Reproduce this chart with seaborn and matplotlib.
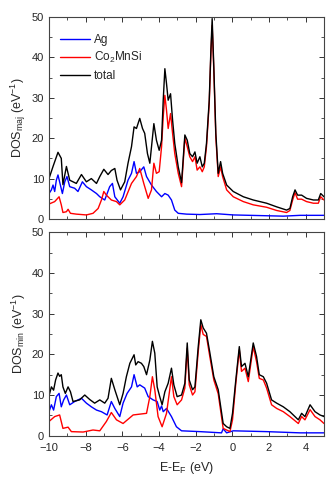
import numpy as np
import pandas as pd
import matplotlib
matplotlib.use("Agg")
import matplotlib.pyplot as plt
import seaborn as sns
from matplotlib.ticker import MultipleLocator

# ---- majority spin channel ----
maj_total_e = [-10.00, -9.78, -9.51, -9.33, -9.24, -9.05, -8.87, -8.51, -8.23, -7.96, -7.69, -7.41,
               -7.23, -7.01, -6.78, -6.60, -6.41, -6.29, -6.10, -5.87, -5.69, -5.50, -5.36, -5.23,
               -5.05, -4.90, -4.78, -4.63, -4.50, -4.28, -4.14, -3.99, -3.86, -3.77, -3.68, -3.59,
               -3.50, -3.37, -3.26, -3.14, -2.95, -2.77, -2.59, -2.46, -2.32, -2.17, -2.04, -1.92,
               -1.77, -1.64, -1.53, -1.41, -1.26, -1.17, -1.10, -1.01, -0.90, -0.77, -0.64, -0.53,
               -0.31, 0.05, 0.60, 1.14, 1.87, 2.42, 2.96, 3.14, 3.29, 3.42, 3.56, 3.78, 4.05,
               4.42, 4.69, 4.82, 5.00]
maj_total = [10.0, 13.0, 16.5, 15.0, 8.5, 13.0, 9.6, 8.8, 11.0, 9.2, 10.0, 8.8,
             10.5, 12.3, 11.0, 12.0, 12.5, 9.6, 7.2, 9.2, 13.8, 17.9, 22.8, 22.4,
             24.9, 22.4, 21.2, 16.2, 13.8, 23.6, 19.5, 17.0, 19.5, 29.4, 37.2, 33.5,
             29.4, 31.0, 24.5, 18.7, 12.9, 9.0, 20.8, 19.5, 16.2, 15.4, 16.6, 13.8,
             15.4, 12.9, 13.8, 18.7, 29.4, 41.8, 49.6, 37.6, 21.2, 11.3, 14.2, 11.3,
             8.4, 6.8, 5.5, 4.7, 3.9, 3.0, 2.2, 2.6, 5.5, 7.2, 5.9, 5.9, 5.1,
             4.7, 4.7, 6.3, 5.5]

maj_co_e = [-10.00, -9.69, -9.45, -9.33, -9.24, -9.05, -8.96, -8.83, -8.51, -7.96, -7.60, -7.32,
            -7.14, -7.01, -6.87, -6.60, -6.32, -6.14, -5.87, -5.50, -5.23, -5.05, -4.83, -4.59,
            -4.41, -4.28, -4.14, -3.99, -3.86, -3.77, -3.68, -3.59, -3.50, -3.37, -3.26, -3.14,
            -2.95, -2.77, -2.59, -2.46, -2.32, -2.17, -2.04, -1.92, -1.77, -1.64, -1.53, -1.41,
            -1.26, -1.17, -1.10, -1.01, -0.90, -0.77, -0.64, -0.53, -0.31, 0.05, 0.60, 1.14,
            1.87, 2.42, 2.96, 3.14, 3.29, 3.42, 3.56, 3.78, 4.05, 4.42, 4.69, 4.82, 5.00]
maj_co = [3.7, 4.3, 5.5, 3.5, 1.6, 1.8, 2.4, 1.4, 1.2, 1.0, 1.4, 2.6,
          4.7, 6.8, 5.9, 4.7, 4.3, 3.5, 4.7, 8.8, 10.5, 12.5, 8.8, 5.1,
          7.2, 13.8, 11.3, 11.7, 17.9, 25.3, 30.6, 26.9, 22.4, 26.1, 21.2, 16.2,
          11.3, 8.0, 20.0, 17.9, 15.4, 14.2, 15.4, 12.1, 12.9, 11.7, 12.9, 17.9,
          28.6, 40.9, 47.9, 36.8, 20.3, 10.5, 12.9, 10.5, 7.2, 5.5, 4.3, 3.5,
          2.9, 2.1, 1.6, 2.1, 4.7, 6.5, 4.9, 4.9, 4.3, 3.9, 3.9, 5.5, 4.7]

maj_ag_e = [-10.00, -9.87, -9.78, -9.69, -9.60, -9.51, -9.38, -9.27, -9.14, -9.02, -8.87, -8.60,
            -8.42, -8.18, -7.96, -7.69, -7.41, -7.23, -6.96, -6.69, -6.54, -6.41, -6.14, -5.96,
            -5.69, -5.50, -5.36, -5.23, -5.05, -4.83, -4.68, -4.41, -4.14, -3.86, -3.68, -3.50,
            -3.32, -3.14, -2.95, -2.50, -1.77, -0.86, 0.05, 1.87, 2.78, 3.69, 5.00]
maj_ag = [6.3, 7.2, 8.4, 6.8, 9.6, 10.9, 8.4, 6.3, 9.2, 10.5, 8.0, 7.6,
          6.8, 9.2, 8.0, 7.2, 6.3, 5.5, 4.7, 8.0, 8.8, 5.5, 3.9, 5.5,
          9.6, 11.3, 14.2, 11.3, 11.7, 12.9, 10.5, 8.4, 6.8, 5.5, 6.3, 5.9,
          4.7, 2.2, 1.4, 1.2, 1.1, 1.3, 1.0, 0.8, 0.7, 0.9, 0.9]

# ---- minority spin channel ----
min_total_e = [-10.00, -9.87, -9.75, -9.64, -9.51, -9.42, -9.33, -9.24, -9.11, -8.96, -8.83, -8.69,
               -8.33, -8.05, -7.78, -7.51, -7.23, -6.96, -6.78, -6.60, -6.41, -6.14, -5.96, -5.78,
               -5.59, -5.36, -5.27, -5.14, -4.96, -4.83, -4.68, -4.50, -4.36, -4.23, -4.10, -3.96,
               -3.83, -3.68, -3.50, -3.32, -3.19, -3.01, -2.77, -2.59, -2.46, -2.35, -2.17, -2.04,
               -1.86, -1.72, -1.59, -1.41, -1.23, -1.01, -0.77, -0.50, -0.31, -0.13, 0.01, 0.19,
               0.38, 0.50, 0.69, 0.87, 1.14, 1.32, 1.47, 1.69, 1.87, 2.14, 2.42, 2.78,
               3.14, 3.60, 3.78, 3.96, 4.24, 4.51, 4.78, 5.00]
min_total = [9.8, 12.0, 11.2, 13.7, 15.4, 14.6, 15.0, 12.0, 10.4, 12.0, 10.8, 8.4,
             8.8, 10.0, 8.9, 8.0, 8.8, 8.0, 9.2, 14.1, 11.3, 7.6, 10.4, 14.5,
             17.8, 19.9, 17.4, 18.2, 17.8, 17.0, 15.0, 18.6, 23.2, 20.3, 12.0, 9.6,
             7.6, 10.8, 12.9, 16.6, 12.5, 9.6, 10.0, 12.9, 22.8, 13.7, 11.3, 12.0,
             21.9, 28.5, 26.5, 25.2, 20.5, 14.5, 11.3, 3.0, 2.2, 1.8, 5.5, 13.7,
             21.9, 17.0, 17.8, 14.5, 22.8, 19.5, 15.0, 14.5, 12.9, 8.8, 8.0, 7.1,
             5.9, 3.9, 5.5, 4.7, 7.6, 5.9, 5.1, 4.7]

min_co_e = [-10.00, -9.69, -9.42, -9.24, -8.96, -8.78, -8.14, -7.60, -7.23, -6.87, -6.60, -6.32,
            -5.96, -5.41, -4.68, -4.50, -4.36, -4.23, -4.05, -3.83, -3.59, -3.32, -3.19, -3.01,
            -2.77, -2.59, -2.46, -2.35, -2.17, -2.04, -1.86, -1.72, -1.59, -1.41, -1.23, -1.01,
            -0.77, -0.50, -0.13, 0.01, 0.19, 0.38, 0.50, 0.69, 0.87, 1.14, 1.32, 1.47,
            1.69, 1.87, 2.14, 2.42, 2.78, 3.14, 3.60, 3.78, 3.96, 4.24, 4.51, 4.78, 5.00]
min_co = [3.5, 4.7, 5.1, 1.8, 2.1, 1.0, 0.9, 1.4, 1.2, 3.5, 5.7, 3.9,
          3.0, 5.1, 5.5, 9.6, 14.5, 11.3, 4.7, 2.2, 5.5, 14.5, 9.6, 7.6,
          8.8, 11.7, 21.5, 12.5, 10.0, 10.8, 20.7, 27.3, 24.9, 24.4, 19.5, 13.7,
          10.3, 1.8, 1.0, 3.9, 12.9, 21.1, 15.8, 16.6, 13.3, 21.9, 18.2, 14.1,
          13.7, 11.7, 7.6, 6.7, 5.9, 4.7, 3.0, 4.7, 3.9, 6.4, 4.7, 3.9, 3.0]

min_ag_e = [-10.00, -9.87, -9.75, -9.60, -9.45, -9.33, -9.20, -9.05, -8.87, -8.60, -8.23, -7.96,
            -7.69, -7.41, -7.14, -6.83, -6.60, -6.41, -6.14, -5.96, -5.74, -5.50, -5.36, -5.19,
            -5.05, -4.78, -4.59, -4.32, -4.10, -3.96, -3.86, -3.77, -3.59, -3.32, -3.05, -2.77,
            -1.77, -0.59, -0.50, -0.31, 0.05, 0.96, 1.87, 3.69, 5.00]
min_ag = [5.9, 7.6, 6.3, 9.6, 10.4, 7.1, 8.8, 10.0, 7.6, 8.4, 9.2, 8.0,
          7.1, 6.3, 5.9, 5.1, 8.4, 6.7, 4.7, 8.0, 10.4, 12.0, 15.0, 12.0,
          12.5, 11.7, 9.6, 8.8, 8.4, 6.3, 7.3, 5.9, 6.7, 4.7, 2.2, 1.2,
          1.0, 0.7, 1.7, 0.7, 1.2, 1.1, 1.0, 0.7, 0.7]

labels = ["Ag", "Co$_2$MnSi", "total"]
colors = ["#0000ff", "#ff0000", "#000000"]

sns.set_style("ticks")
plt.rcParams["font.family"] = ["Liberation Sans", "DejaVu Sans"]
plt.rcParams["mathtext.fontset"] = "custom"
plt.rcParams["mathtext.rm"] = "Liberation Sans"
plt.rcParams["mathtext.it"] = "Liberation Sans"

fig = plt.figure(figsize=(3.32, 4.8), dpi=100)
ax_top = fig.add_axes([0.1476, 0.5438, 0.8283, 0.4208])
ax_bot = fig.add_axes([0.1476, 0.0923, 0.8283, 0.4237])

panels = [
    (ax_top, [(maj_ag_e, maj_ag), (maj_co_e, maj_co), (maj_total_e, maj_total)]),
    (ax_bot, [(min_ag_e, min_ag), (min_co_e, min_co), (min_total_e, min_total)]),
]
for ax, series in panels:
    for (xe, yv), lab, c in zip(series, labels, colors):
        sns.lineplot(x=xe, y=yv, ax=ax, color=c, linewidth=1.0, label=lab)
    ax.set_xlim(-10, 5)
    ax.set_ylim(0, 50)
    ax.xaxis.set_major_locator(MultipleLocator(2))
    ax.xaxis.set_minor_locator(MultipleLocator(1))
    ax.yaxis.set_major_locator(MultipleLocator(10))
    ax.yaxis.set_minor_locator(MultipleLocator(5))
    ax.tick_params(which="both", direction="in", top=True, right=True,
                   labelsize=8, color="#333333")
    ax.tick_params(axis="y", pad=3.5)
    ax.tick_params(axis="x", pad=5)
    ax.tick_params(which="major", length=3.5, width=0.7)
    ax.tick_params(which="minor", length=2, width=0.6)
    for sp in ax.spines.values():
        sp.set_color("#444444")
        sp.set_linewidth(0.8)

ax_top.set_xticklabels([])
ax_top.set_xlabel("")
ax_top.set_ylabel("DOS$_{\\mathrm{maj}}$ (eV$^{-1}$)", fontsize=9, labelpad=3)
ax_bot.set_ylabel("DOS$_{\\mathrm{min}}$ (eV$^{-1}$)", fontsize=9, labelpad=3)
ax_bot.set_xlabel("E-E$_{\\mathrm{F}}$ (eV)", fontsize=9, labelpad=5)

ax_top.legend(loc="upper left", bbox_to_anchor=(0.0, 0.97), frameon=False,
              fontsize=8.5, handlelength=2.6, handletextpad=0.3, labelspacing=0.4,
              borderaxespad=0.5)
ax_bot.get_legend().remove()

fig.savefig("out.png", dpi=100)
